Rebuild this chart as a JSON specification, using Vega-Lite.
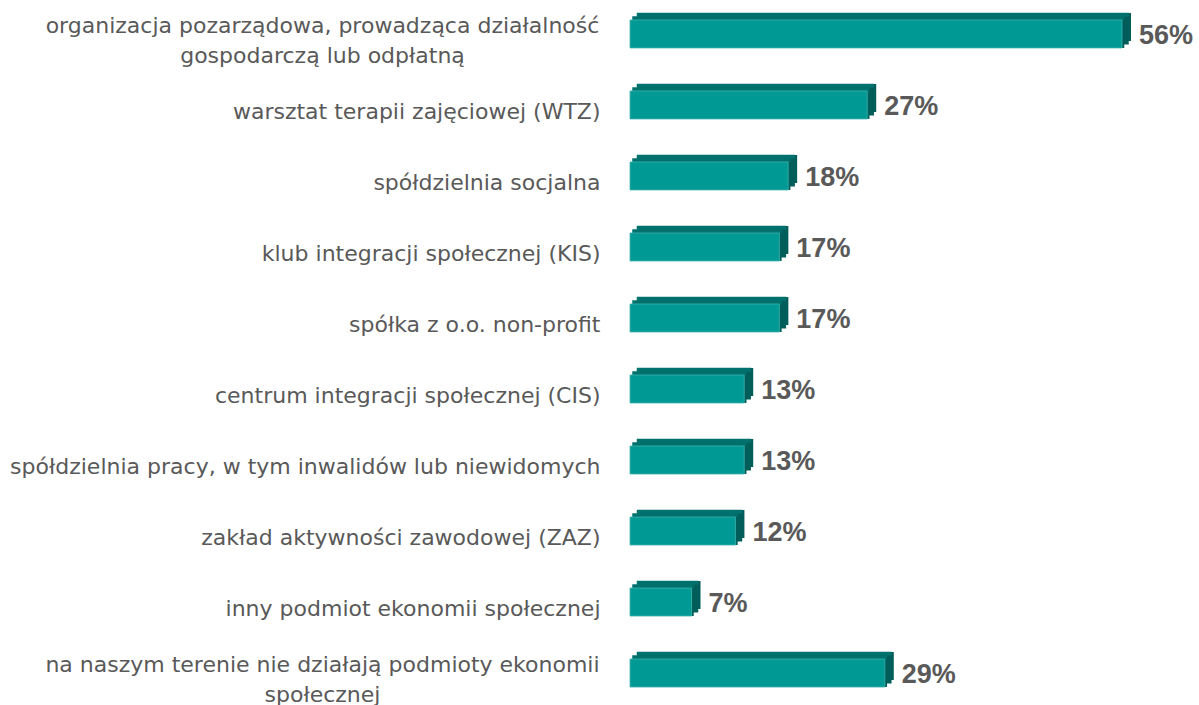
{
  "$schema": "https://vega.github.io/schema/vega-lite/v6.json",
  "width": 492,
  "height": 703,
  "autosize": {"type": "none"},
  "padding": {"left": 630, "top": 2, "right": 77, "bottom": 0},
  "background": "white",
  "config": {"view": {"stroke": null}},
  "data": {
    "values": [
      {"category": "organizacja pozarządowa, prowadząca działalność|gospodarczą lub odpłatną", "value": 0.56},
      {"category": "warsztat terapii zajęciowej (WTZ)", "value": 0.27},
      {"category": "spółdzielnia socjalna", "value": 0.18},
      {"category": "klub integracji społecznej (KIS)", "value": 0.17},
      {"category": "spółka z o.o. non-profit", "value": 0.17},
      {"category": "centrum integracji społecznej (CIS)", "value": 0.13},
      {"category": "spółdzielnia pracy, w tym inwalidów lub niewidomych", "value": 0.13},
      {"category": "zakład aktywności zawodowej (ZAZ)", "value": 0.12},
      {"category": "inny podmiot ekonomii społecznej", "value": 0.07},
      {"category": "na naszym terenie nie działają podmioty ekonomii|społecznej", "value": 0.29}
    ]
  },
  "encoding": {
    "y": {
      "field": "category",
      "type": "nominal",
      "sort": null,
      "scale": {"paddingInner": 0.6, "paddingOuter": 0.25},
      "axis": {
        "title": null,
        "domain": false,
        "ticks": false,
        "tickSize": 0,
        "grid": false,
        "labelFont": "DejaVu Sans",
        "labelFontSize": 22,
        "labelColor": "#595959",
        "labelLimit": 0,
        "labelLineHeight": 30,
        "labelExpr": "split(datum.label, '|')",
        "labelAlign": {"condition": {"test": "indexof(datum.value, '|') >= 0", "value": "center"}, "value": "right"},
        "labelPadding": {"condition": {"test": "indexof(datum.value, '|') >= 0", "value": 308}, "value": 30},
        "labelOffset": {"condition": {"test": "indexof(datum.value, '|') >= 0", "value": -8}, "value": 7}
      }
    },
    "x": {
      "field": "value",
      "type": "quantitative",
      "scale": {"domain": [0, 0.56]},
      "axis": null
    }
  },
  "layer": [
    {"mark": {"type": "bar", "color": "#005E5A", "height": 28, "xOffset": 9, "x2Offset": 9, "yOffset": -7}},
    {"mark": {"type": "bar", "color": "#005E5A", "height": 28, "xOffset": 6.75, "x2Offset": 6.75, "yOffset": -3.5}},
    {"mark": {"type": "bar", "color": "#005E5A", "height": 28, "xOffset": 2.25, "x2Offset": 2.25, "yOffset": 0}},
    {"mark": {"type": "bar", "color": "#00716D", "height": 4, "xOffset": 6.75, "x2Offset": 6.75, "yOffset": -19.25}},
    {"mark": {"type": "bar", "color": "#00716D", "height": 4, "xOffset": 2.25, "x2Offset": 2.25, "yOffset": -15.75}},
    {"mark": {"type": "bar", "color": "#009994", "height": 28, "stroke": "#3FB3AE", "strokeWidth": 0.8}},
    {
      "mark": {"type": "text", "align": "left", "baseline": "middle", "dx": 17, "dy": 2, "font": "Liberation Sans", "fontSize": 27, "fontWeight": "bold", "color": "#595959"},
      "encoding": {"text": {"field": "value", "type": "quantitative", "format": ".0%"}}
    }
  ]
}
